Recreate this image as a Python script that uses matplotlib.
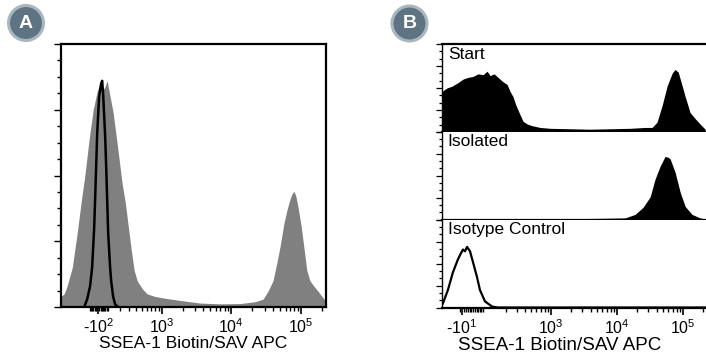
import numpy as np
import matplotlib
matplotlib.use("Agg")
import matplotlib.pyplot as plt
from matplotlib.patches import Circle
from matplotlib.ticker import FixedLocator, MultipleLocator, AutoMinorLocator

plt.rcParams['font.family'] = ['Liberation Sans', 'DejaVu Sans']
plt.rcParams['mathtext.fontset'] = 'custom'
plt.rcParams['mathtext.rm'] = 'Liberation Sans'
plt.rcParams['mathtext.it'] = 'Liberation Sans:italic'
plt.rcParams['mathtext.bf'] = 'Liberation Sans:bold'

# Panel A: SSEA-1 stained cells (grey) and isotype control (black outline)
a_stained_x = [-388, -342, -302, -240, -187, -147, -110, -75, -41, -8, 16, 50, 75, 101,
               128, 157, 187, 218, 253, 289, 328, 370, 417, 502, 600, 795, 1195, 1850,
               3575, 6900, 13350, 21800, 28500, 33500, 39500, 45000, 49800, 56700, 62700,
               69200, 73700, 79000, 84000, 90000, 99500, 110000, 120000, 133000, 151000,
               174000, 198000, 226000]
a_stained_y = [4, 5, 8, 15, 28, 40, 51, 64, 75, 82, 85, 83, 86, 80,
               74, 65, 56, 47, 40, 31, 22, 14, 10, 7, 5, 4, 3.2, 2.5,
               1.5, 1.2, 1.3, 2, 3, 6, 10, 17, 23, 32, 37,
               41, 43, 44, 42, 38, 31, 22, 14, 10, 8,
               6, 4, 2]
a_isotype_x = [-119, -92, -67, -50, -33, -25, -8, 8, 25, 33, 41, 58, 67, 84, 101, 110,
               128, 147, 176]
a_isotype_y = [0, 3, 8, 15, 30, 41, 66, 80, 85, 86, 81, 65, 53, 28, 15, 10,
               4, 1, 0]

# Panel B: start, isolated and isotype control populations
start_x = [-68, -49, -32, -12.6, 3.1, 19, 35, 53, 72, 89, 103, 123, 145, 177, 207, 232,
           259, 289, 323, 373, 430, 513, 681, 965, 1940, 3900, 7900, 15800, 26600, 34000,
           40400, 48300, 57400, 68700, 75900, 84700, 90800, 108000, 128000, 153000,
           181000, 216000]
start_y = [46, 50, 52, 56, 60, 62, 63, 66, 65, 69, 64, 66, 62, 57, 54, 46,
           40, 30, 22, 12, 9, 7, 5, 4, 3.5, 3, 3.5, 4, 5, 5,
           11, 30, 52, 67, 71, 68, 60, 40, 22, 15,
           9, 3]
isolated_x = [-68, 156, 1375, 5550, 13300, 18800, 24800, 31800, 37700, 45100, 53500,
              59700, 64000, 75900, 90800, 108000, 137000, 181000, 216000]
isolated_y = [0.5, 0.5, 1, 1.5, 2, 6, 14, 26, 46, 61, 72,
              71, 69, 54, 31, 15, 6, 2, 1]
isotype_x = [-68, -64, -46, -29, -12.6, -3, 3, 9.4, 15.8, 25.5, 35, 49, 60, 80, 113,
             145, 1000, 10000, 100000, 216000]
isotype_y = [3, 5, 20, 40, 55, 62, 66, 64, 69, 64, 52, 35, 20, 7, 1,
             0, 0, 0, 0, 0]


def biex_scale(ax, w):
    ax.set_xscale('function', functions=(lambda v: np.arcsinh(np.asarray(v) / w),
                                         lambda v: w * np.sinh(np.asarray(v))))


def decade_minors(lo, hi):
    ticks = []
    for dec in [100, 1000, 10000, 100000]:
        for m in range(2, 10):
            ticks.append(m * dec)
    return [t for t in ticks if lo < t < hi]


def style_xaxis(ax, zero_label, cluster, xmax):
    ax.xaxis.set_major_locator(FixedLocator([0, 1e3, 1e4, 1e5]))
    ax.set_xticklabels([zero_label, '10$^{3}$', '10$^{4}$', '10$^{5}$'])
    ax.xaxis.set_minor_locator(FixedLocator(list(cluster) + decade_minors(150, xmax)))
    ax.tick_params(axis='x', which='major', direction='out', length=5, width=1.2,
                   labelsize=11.5, pad=2.5)
    ax.tick_params(axis='x', which='minor', direction='out', length=3, width=1.0)


fig = plt.figure(figsize=(7.06, 3.54), dpi=100)

# ---- Panel A ----
axA = fig.add_axes([61 / 706, 1 - 307 / 354, 265 / 706, 263 / 354])
biex_scale(axA, 250)
axA.fill_between(a_stained_x, a_stained_y, color='#808080', linewidth=0)
axA.plot(a_isotype_x, a_isotype_y, color='black', linewidth=1.8)
axA.set_xlim(-388, 226000)
axA.set_ylim(0, 100)
for s in axA.spines.values():
    s.set_linewidth(1.6)
style_xaxis(axA, '-10$^{2}$', np.arange(-70, 81, 10), 226000)
axA.yaxis.set_major_locator(MultipleLocator(25))
axA.yaxis.set_minor_locator(AutoMinorLocator(4))
axA.tick_params(axis='y', which='major', direction='out', length=5, width=1.0, labelleft=False)
axA.tick_params(axis='y', which='minor', direction='out', length=3, width=1.0)
axA.set_xlabel('SSEA-1 Biotin/SAV APC', fontsize=12.5, labelpad=0)

# ---- Panel B ----
b_left = 442 / 706
b_bottom = 1 - 307.5 / 354
b_h = (307.5 - 44) / 354 / 3
panels = [
    ('Start', start_x, start_y, 'fill'),
    ('Isolated', isolated_x, isolated_y, 'fill'),
    ('Isotype Control', isotype_x, isotype_y, 'line'),
]
axesB = []
for i, (name, xs, ys, kind) in enumerate(panels):
    ax = fig.add_axes([b_left, b_bottom + (2 - i) * b_h, 1 - b_left, b_h])
    biex_scale(ax, 90)
    if kind == 'fill':
        ax.fill_between(xs, ys, color='black', linewidth=0)
    else:
        ax.plot(xs, ys, color='black', linewidth=1.6)
    ax.set_xlim(-68, 223000)
    ax.set_ylim(0, 100)
    ax.text(0.022, 0.97, name, transform=ax.transAxes, ha='left', va='top', fontsize=12.5)
    ax.spines['right'].set_visible(False)
    ax.spines['left'].set_linewidth(1.0)
    ax.spines['bottom'].set_linewidth(1.6)
    ax.spines['top'].set_linewidth(1.6)
    if i > 0:
        ax.spines['top'].set_visible(False)
    ax.yaxis.set_major_locator(MultipleLocator(25))
    ax.yaxis.set_minor_locator(AutoMinorLocator(3))
    ax.tick_params(axis='y', which='major', direction='out', length=4, width=0.9, labelleft=False)
    ax.tick_params(axis='y', which='minor', direction='out', length=2.5, width=0.9)
    if i < 2:
        ax.tick_params(axis='x', which='both', bottom=False, labelbottom=False)
    else:
        style_xaxis(ax, '-10$^{1}$', np.arange(-6, 75, 6), 223000)
        ax.set_xlabel('SSEA-1 Biotin/SAV APC', fontsize=13.5, labelpad=0)
        ax.xaxis.set_label_coords((560 - 442) / (706 - 442), -0.34)
    axesB.append(ax)

# ---- panel badges ----
for label, cx, cy in [('A', 26, 23), ('B', 409.5, 23.5)]:
    xin, yin = cx / 100, (354 - cy) / 100
    fig.add_artist(Circle((xin, yin), 0.175, transform=fig.dpi_scale_trans,
                          facecolor='#5f7483', edgecolor='#aab7c0', linewidth=2.2))
    fig.text(cx / 706, 1 - cy / 354, label, color='white', fontsize=14, fontweight='bold',
             ha='center', va='center')

fig.savefig('out.png', dpi=100)
